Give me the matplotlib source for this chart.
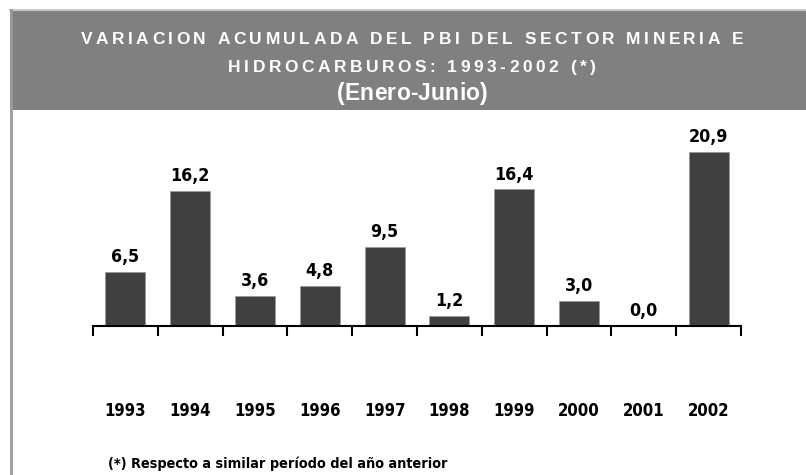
import matplotlib
matplotlib.use("Agg")
import matplotlib.pyplot as plt
from matplotlib.patches import Rectangle
from matplotlib.lines import Line2D
from matplotlib.font_manager import FontProperties
import matplotlib.transforms as mtransforms

years = ["1993", "1994", "1995", "1996", "1997", "1998", "1999", "2000", "2001", "2002"]
values = [6.5, 16.2, 3.6, 4.8, 9.5, 1.2, 16.4, 3.0, 0.0, 20.9]
value_labels = ["6,5", "16,2", "3,6", "4,8", "9,5", "1,2", "16,4", "3,0", "0,0", "20,9"]

title_lines = ["VARIACION ACUMULADA DEL PBI DEL SECTOR MINERIA E",
               "HIDROCARBUROS: 1993-2002 (*)"]
subtitle = "(Enero-Junio)"
footnote = "(*) Respecto a similar período del año anterior"

W, H = 806, 475
fig = plt.figure(figsize=(W / 100, H / 100), dpi=100)
fig.patch.set_facecolor("white")
renderer = fig.canvas.get_renderer()

cond = dict(family=["DejaVu Sans"], stretch="condensed", fontweight="bold")


def fx(px):
    return px / W


def fy(py):
    return 1 - py / H


def tracked_text(s, cx, cy, size, tracking, color="white"):
    prop = FontProperties(family=["Liberation Sans", "DejaVu Sans"],
                          weight="bold", size=size)
    base, _, _ = renderer.get_text_width_height_descent("HH", prop, ismath=False)
    adv = []
    for ch in s:
        w, _, _ = renderer.get_text_width_height_descent("H" + ch + "H", prop, ismath=False)
        adv.append(w - base)
    total = sum(adv) + tracking * (len(s) - 1)
    xpos = cx - total / 2
    for ch, a in zip(s, adv):
        if ch != " ":
            fig.text(fx(xpos), fy(cy), ch, ha="left", va="center_baseline",
                     color=color, fontproperties=prop)
        xpos += a + tracking


# Outer frame and header band
fig.add_artist(Line2D([fx(10), 1], [fy(9.5), fy(9.5)], color="#c8c8c8", lw=1.5))
fig.add_artist(Rectangle((fx(10), fy(110)), 1 - fx(10), fy(10) - fy(110),
                         facecolor="#808080", edgecolor="none"))
fig.add_artist(Line2D([fx(11), fx(11)], [0, fy(10)], color="#9a9a9a", lw=2))

tracked_text(title_lines[0], 412, 38, 12.5, 3.5)
tracked_text(title_lines[1], 412, 66, 12.5, 3.5)
tracked_text(subtitle, 412, 91, 16.5, 0.2)

# Axes: zero line at y=326 px, x from 93 to 741 px
left_px, right_px, zero_px = 93, 741, 326
ymax = 25
ppu = 8.33
top_px = zero_px - ymax * ppu
ax = fig.add_axes([fx(left_px), fy(zero_px), fx(right_px - left_px), (zero_px - top_px) / H])
ax.set_facecolor("none")
x = list(range(len(years)))
ax.bar(x, values, width=0.62, color="#404040", edgecolor="#9a9a9a", linewidth=0.6)
ax.set_xlim(-0.5, len(years) - 0.5)
ax.set_ylim(0, ymax)
for s in ["top", "right", "left"]:
    ax.spines[s].set_visible(False)
ax.spines["bottom"].set_linewidth(1.5)
ax.set_yticks([])
ax.set_xticks([i - 0.5 for i in range(len(years) + 1)])
ax.set_xticklabels([])
ax.tick_params(axis="x", direction="out", length=7, width=1.5, color="black")

for xi, v, lab in zip(x, values, value_labels):
    ax.annotate(lab, (xi, v), xytext=(0, 4), textcoords="offset points",
                ha="center", va="bottom", fontsize=12.8, **cond)

trans = mtransforms.blended_transform_factory(ax.transData, fig.transFigure)
for xi, yr in zip(x, years):
    ax.text(xi, fy(411), yr, transform=trans, ha="center", va="center",
            fontsize=12, **cond)

fig.text(fx(108), fy(464), footnote, ha="left", va="center", fontsize=10.4,
         **cond)

fig.savefig("out.png", dpi=100)
